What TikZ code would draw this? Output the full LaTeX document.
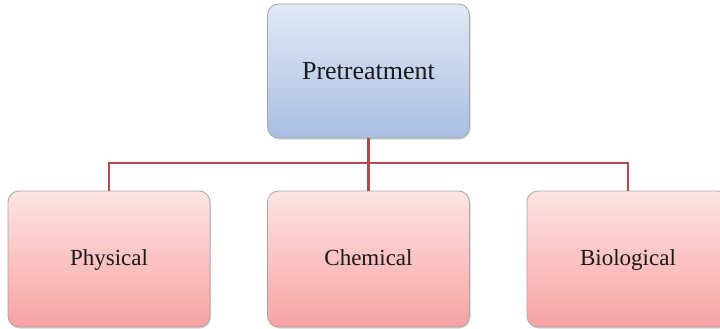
\documentclass[tikz,border=0pt]{standalone}
\usepackage{fontspec}
\setmainfont{Liberation Serif}
\usetikzlibrary{shadows}
\definecolor{linkred}{HTML}{B5474A}
\definecolor{bluetop}{HTML}{E2E9F6}
\definecolor{bluebot}{HTML}{A9BEE2}
\definecolor{pinktop}{HTML}{FDE4E4}
\definecolor{pinkbot}{HTML}{F8A2A2}
\tikzset{
  topbox/.style={rectangle, rounded corners=11pt, draw=gray!70, line width=0.8pt,
    top color=bluetop, bottom color=bluebot, minimum width=202pt, minimum height=134pt,
    text height=20pt, text depth=4pt,
    font=\fontsize{26}{28}\selectfont, text=black!90, drop shadow={shadow xshift=1pt, shadow yshift=-1.5pt, opacity=0.35}},
  leafbox/.style={rectangle, rounded corners=11pt, draw=gray!70, line width=0.8pt,
    top color=pinktop, bottom color=pinkbot, minimum width=202pt, minimum height=136pt,
    text height=16pt, text depth=4pt,
    font=\fontsize{23}{26}\selectfont, text=black!90, drop shadow={shadow xshift=1pt, shadow yshift=-1.5pt, opacity=0.35}},
  link/.style={draw=linkred, line width=2.2pt}
}
\begin{document}
\begin{tikzpicture}[x=1pt,y=-1pt]
\useasboundingbox (0,0) rectangle (720,329);
\node[topbox] (pre) at (368.5,71) {Pretreatment};
\node[leafbox] (phy) at (109,259) {Physical};
\node[leafbox] (che) at (368.5,259) {Chemical};
\node[leafbox] (bio) at (628,259) {Biological};
\coordinate (bus) at (368.5,163);
\draw[link] (pre.south) -- (bus);
\draw[link] (phy.north) |- (bus) -| (bio.north);
\draw[link] (bus) -- (che.north);
\end{tikzpicture}
\end{document}
